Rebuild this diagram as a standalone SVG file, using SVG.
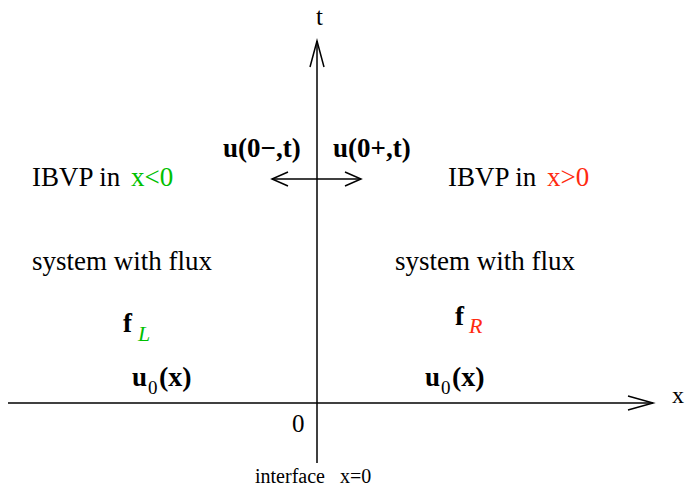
<svg xmlns="http://www.w3.org/2000/svg" width="688" height="489" viewBox="0 0 688 489">
<style>
text{font-family:"Liberation Serif","Times New Roman",serif;fill:#000}
.r{font-size:27px}
.b{font-size:27px;font-weight:bold}
.ax{stroke:#000;stroke-width:1.5;fill:none}
.g{fill:#00c000}
.red{fill:#ff2a10}
.sub{font-size:19px}
.px{font-size:28px;font-weight:bold}
.it{font-size:22px;font-style:italic}
</style>
<rect width="688" height="489" fill="#fff"/>
<g id="connectors">
<line class="ax" x1="8" y1="403" x2="653" y2="403"/>
<polyline class="ax" points="628,396 653,403 628,410"/>
<line class="ax" x1="317" y1="463" x2="317" y2="41"/>
<polyline class="ax" points="310,67 317,41 324,67"/>
<line class="ax" x1="272" y1="179" x2="361" y2="179"/>
<polyline class="ax" points="288,172 272,179 288,186"/>
<polyline class="ax" points="345,172 361,179 345,186"/>
</g>
<g id="axis-labels">
<text x="316" y="25" style="font-size:25px">t</text>
<text x="672" y="403" style="font-size:24px">x</text>
<text x="292" y="432" style="font-size:25px">0</text>
<text x="255" y="483" style="font-size:20px" xml:space="preserve">interface   x=0</text>
</g>
<g id="interface-values">
<text x="223" y="157" class="b">u(0−,t)</text>
<text x="333" y="157" class="b">u(0+,t)</text>
</g>
<g id="left">
<text x="32" y="186" class="r">IBVP in <tspan class="g" dx="4">x&lt;0</tspan></text>
<text x="32" y="270" class="r">system with flux</text>
<text x="123" y="332" class="b">f</text>
<text x="138" y="341" class="it g">L</text>
<text x="132" y="386" class="b">u</text>
<text x="148" y="394" class="sub">0</text>
<text x="159" y="386" class="px">(x)</text>
</g>
<g id="right">
<text x="448" y="186" class="r">IBVP in <tspan class="red" dx="4">x&gt;0</tspan></text>
<text x="395" y="270" class="r">system with flux</text>
<text x="455" y="325" class="b">f</text>
<text x="469" y="333" class="it red">R</text>
<text x="425" y="386" class="b">u</text>
<text x="441" y="394" class="sub">0</text>
<text x="452" y="386" class="px">(x)</text>
</g>
</svg>
